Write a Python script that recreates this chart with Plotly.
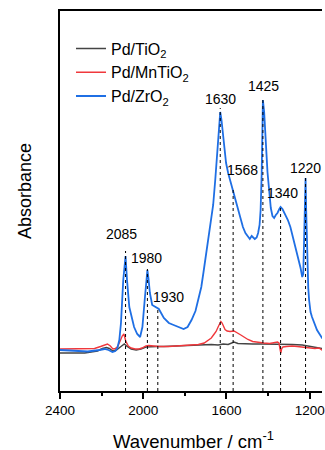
import plotly.graph_objects as go

# ---- data (wavenumber / cm-1, absorbance a.u.) ----
zro2_wn = [2400, 2329, 2267, 2210, 2186, 2167, 2148, 2134, 2124, 2115, 2107, 2096, 2085, 2078, 2067,
           2044, 2029, 2015, 2004, 1993, 1987, 1980, 1975, 1968, 1957, 1944, 1935, 1925, 1901, 1877,
           1854, 1830, 1806, 1787, 1768, 1749, 1735, 1721, 1711, 1697, 1688, 1673, 1664, 1654, 1645,
           1640, 1633, 1630, 1624, 1616, 1609, 1602, 1592, 1583, 1574, 1564, 1555, 1545, 1533, 1521,
           1509, 1497, 1488, 1479, 1471, 1464, 1455, 1448, 1441, 1436, 1431, 1426, 1425, 1419, 1411,
           1403, 1395, 1387, 1379, 1371, 1363, 1355, 1346, 1340, 1331, 1324, 1317, 1305, 1293, 1281,
           1270, 1260, 1252, 1244, 1236, 1231, 1227, 1224, 1220, 1217, 1212, 1207, 1203, 1196, 1189,
           1177, 1165, 1153, 1141, 1117]
zro2_abs = [0.041, 0.0405, 0.0395, 0.041, 0.042, 0.041, 0.039, 0.040, 0.043, 0.051, 0.068, 0.111, 0.135, 0.111, 0.084,
            0.064, 0.057, 0.054, 0.064, 0.091, 0.109, 0.121, 0.113, 0.098, 0.086, 0.084, 0.083, 0.082, 0.073, 0.068,
            0.066, 0.064, 0.062, 0.064, 0.071, 0.080, 0.091, 0.104, 0.118, 0.138, 0.154, 0.171, 0.186, 0.211, 0.236,
            0.251, 0.273, 0.279, 0.271, 0.254, 0.239, 0.228, 0.218, 0.211, 0.205, 0.198, 0.190, 0.181, 0.171, 0.164,
            0.158, 0.154, 0.152, 0.155, 0.153, 0.152, 0.1535, 0.158, 0.166, 0.181, 0.216, 0.261, 0.291, 0.279, 0.244,
            0.219, 0.201, 0.183, 0.175, 0.173, 0.176, 0.178, 0.182, 0.184, 0.182, 0.179, 0.177, 0.171, 0.164, 0.154,
            0.144, 0.136, 0.131, 0.123, 0.114, 0.117, 0.151, 0.191, 0.213, 0.181, 0.128, 0.103, 0.091, 0.079, 0.074,
            0.067, 0.061, 0.057, 0.053, 0.049]

mntio2_wn = [2400, 2305, 2234, 2205, 2186, 2172, 2158, 2146, 2134, 2124, 2113, 2101, 2093, 2084, 2072,
             2058, 2039, 2020, 2006, 1987, 1973, 1949, 1925, 1878, 1830, 1783, 1735, 1707, 1688, 1673,
             1659, 1650, 1638, 1627, 1621, 1614, 1607, 1597, 1583, 1564, 1550, 1531, 1512, 1497, 1474,
             1450, 1421, 1393, 1369, 1355, 1348, 1343, 1339, 1335, 1329, 1312, 1284, 1260, 1231, 1203,
             1175, 1156, 1141, 1117]
mntio2_abs = [0.042, 0.042, 0.0425, 0.0445, 0.046, 0.047, 0.045, 0.042, 0.0425, 0.0443, 0.049, 0.055, 0.057, 0.050, 0.045,
              0.043, 0.042, 0.042, 0.043, 0.045, 0.0455, 0.045, 0.0445, 0.0445, 0.045, 0.0455, 0.0465, 0.048, 0.0505, 0.053,
              0.057, 0.0595, 0.065, 0.0695, 0.068, 0.064, 0.0615, 0.060, 0.0595, 0.060, 0.0585, 0.056, 0.0535, 0.0515, 0.0495,
              0.0485, 0.048, 0.0475, 0.048, 0.049, 0.048, 0.043, 0.038, 0.042, 0.044, 0.0445, 0.045, 0.0445, 0.044, 0.0435,
              0.0425, 0.043, 0.041, 0.041]

tio2_wn = [2400, 2281, 2220, 2196, 2177, 2163, 2146, 2129, 2110, 2091, 2077, 2058, 2034, 2011, 1987,
           1963, 1935, 1901, 1854, 1806, 1759, 1711, 1673, 1640, 1616, 1592, 1564, 1545, 1512, 1474,
           1426, 1379, 1331, 1284, 1236, 1203, 1175, 1141, 1117]
tio2_abs = [0.038, 0.038, 0.040, 0.0425, 0.0435, 0.0425, 0.040, 0.041, 0.044, 0.047, 0.0445, 0.042, 0.041, 0.042, 0.044,
            0.0445, 0.0445, 0.0445, 0.045, 0.045, 0.0455, 0.046, 0.0465, 0.046, 0.047, 0.0465, 0.049, 0.0475, 0.047, 0.047,
            0.047, 0.047, 0.0465, 0.0465, 0.046, 0.045, 0.044, 0.0425, 0.0415]

# marked peaks: position, top of dotted guide, label anchor
peak_wn = [2085, 1980, 1930, 1630, 1568, 1425, 1340, 1220]
peak_top = [0.140, 0.122, 0.084, 0.283, 0.203, 0.293, 0.186, 0.214]
label_text = ["2085", "1980", "1930", "1630", "1568", "1425", "1340", "1220"]
label_wn = [2105, 1982, 1877, 1627, 1521, 1423, 1331, 1222]
label_abs = [0.157, 0.133, 0.094, 0.292, 0.221, 0.305, 0.198, 0.223]

x_ticks = [2400, 2000, 1600, 1200]

FONT = "Arial, Liberation Sans, sans-serif"

fig = go.Figure()
fig.add_trace(go.Scatter(x=tio2_wn, y=tio2_abs, mode="lines", name="Pd/TiO<sub>2</sub>",
                         line=dict(color="#444444", width=1.5)))
fig.add_trace(go.Scatter(x=mntio2_wn, y=mntio2_abs, mode="lines", name="Pd/MnTiO<sub>2</sub>",
                         line=dict(color="#f0383c", width=1.4)))
fig.add_trace(go.Scatter(x=zro2_wn, y=zro2_abs, mode="lines", name="Pd/ZrO<sub>2</sub>",
                         line=dict(color="#1f6fe4", width=1.8)))

for wn, top in zip(peak_wn, peak_top):
    fig.add_shape(type="line", xref="x", yref="y", x0=wn, x1=wn, y0=0, y1=top,
                  line=dict(color="black", width=1, dash="dot"), layer="above")

for t, wn, a in zip(label_text, label_wn, label_abs):
    fig.add_annotation(x=wn, y=a, xref="x", yref="y", text=t, showarrow=False,
                       xanchor="center", yanchor="middle",
                       font=dict(family=FONT, size=14, color="black"))

fig.add_annotation(x=-0.134, y=0.526, xref="paper", yref="paper", text="Absorbance",
                   textangle=-90, showarrow=False, xanchor="center", yanchor="middle",
                   font=dict(family=FONT, size=18, color="black"))
fig.add_annotation(x=0.509, y=-0.129, xref="paper", yref="paper", text="Wavenumber / cm<sup>-1</sup>",
                   showarrow=False, xanchor="center", yanchor="middle",
                   font=dict(family=FONT, size=18.5, color="black"))

fig.update_xaxes(range=[2400, 1141], tickvals=x_ticks, ticks="outside", ticklen=6, tickwidth=1.5,
                 tickcolor="black", showline=True, linecolor="black", linewidth=1.5, mirror=True,
                 showgrid=False, zeroline=False, ticklabeloverflow="allow",
                 tickfont=dict(family=FONT, size=13.5, color="black"),
                 minor=dict(tickvals=[2200, 1800, 1400], ticks="outside", ticklen=3, tickwidth=1.5,
                            tickcolor="black", showgrid=False))
fig.update_yaxes(range=[0, 0.38], showticklabels=False, ticks="", showline=True, linecolor="black",
                 linewidth=1.5, mirror=False, showgrid=False, zeroline=False)

fig.update_layout(width=325, height=450, margin=dict(l=60, r=0, t=11, b=59),
                  plot_bgcolor="white", paper_bgcolor="white",
                  font=dict(family=FONT, color="black"),
                  legend=dict(x=0.042, y=0.946, xanchor="left", yanchor="top", bgcolor="rgba(0,0,0,0)",
                              font=dict(family=FONT, size=16, color="black"), tracegroupgap=0))

# remove the default page margin so the 325x450 figure fills the window exactly
fig.write_html("out.html", config={"displayModeBar": False},
               post_script="document.body.style.margin='0';document.body.style.overflow='hidden';")
